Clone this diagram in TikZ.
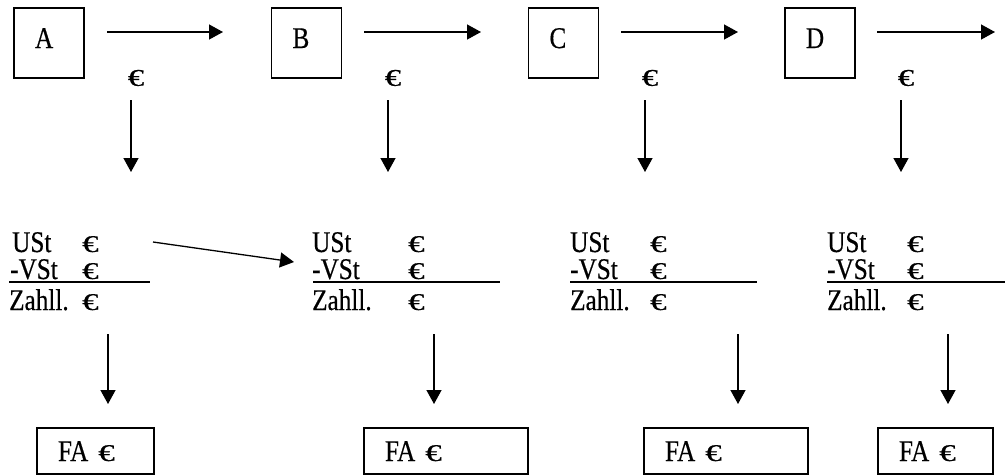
\documentclass[tikz,border=0pt]{standalone}
\usepackage{graphicx}
\usepackage{fontspec}
\setmainfont{Liberation Serif}[FakeStretch=0.84,FakeBold=0.5]
\usetikzlibrary{arrows.meta}
\newcommand{\myeuro}{\scalebox{1.3}[0.8]{€}}
\tikzset{
  arr/.style={line width=1.3pt,-{Triangle[length=14pt,width=15pt]}},
  partybox/.style={draw,line width=1.3pt,minimum width=70pt,minimum height=70pt,inner xsep=21pt,inner ysep=0pt,text width=28pt,align=left,text height=20pt,text depth=10pt},
  fabox/.style={draw,line width=1.3pt,minimum height=46pt,inner xsep=21pt,inner ysep=0pt,align=left,text height=20pt,text depth=0pt},
  txt/.style={anchor=base west,inner sep=0pt},
  eur/.style={inner sep=0pt},
  rule/.style={line width=2pt}
}
\begin{document}
\begin{tikzpicture}[x=1pt,y=-1pt,font=\fontsize{30}{36}\selectfont]
\useasboundingbox (0,0) rectangle (1005,475);
% parties
\node[partybox] (A) at (49,43) {A};
\node[partybox] (B) at (306.5,43) {B};
\node[partybox] (C) at (563.5,43) {C};
\node[partybox] (D) at (820,43) {D};
% horizontal arrows
\coordinate (hA1) at (107,32); \coordinate (hA2) at (223,32);
\coordinate (hB1) at (364,32); \coordinate (hB2) at (481,32);
\coordinate (hC1) at (621,32); \coordinate (hC2) at (738,32);
\coordinate (hD1) at (877,32); \coordinate (hD2) at (995,32);
\draw[arr] (hA1) -- (hA2);
\draw[arr] (hB1) -- (hB2);
\draw[arr] (hC1) -- (hC2);
\draw[arr] (hD1) -- (hD2);
% euro signs
\node[eur] (eA) at (136,78) {\myeuro};
\node[eur] (eB) at (393,78) {\myeuro};
\node[eur] (eC) at (650,78) {\myeuro};
\node[eur] (eD) at (906,78) {\myeuro};
% vertical arrows (upper)
\coordinate (vA1) at (131,100); \coordinate (vA2) at (131,172);
\coordinate (vB1) at (388,100); \coordinate (vB2) at (388,172);
\coordinate (vC1) at (645,100); \coordinate (vC2) at (645,172);
\coordinate (vD1) at (901,100); \coordinate (vD2) at (901,172);
\draw[arr] (vA1) -- (vA2);
\draw[arr] (vB1) -- (vB2);
\draw[arr] (vC1) -- (vC2);
\draw[arr] (vD1) -- (vD2);
% ledgers
\node[txt] (uA) at (12,252) {USt};   \node[txt] (ueA) at (82,252) {\myeuro};
\node[txt] (vsA) at (10,279) {-VSt}; \node[txt] (veA) at (82,279) {\myeuro};
\node[txt] (zA) at (9,310) {Zahll.}; \node[txt] (zeA) at (82,310) {\myeuro};
\coordinate (lA1) at (9,282); \coordinate (lA2) at (150,282);
\draw[rule] (lA1) -- (lA2);

\node[txt] (uB) at (312,252) {USt};   \node[txt] (ueB) at (408,252) {\myeuro};
\node[txt] (vsB) at (312,279) {-VSt}; \node[txt] (veB) at (408,279) {\myeuro};
\node[txt] (zB) at (312,310) {Zahll.}; \node[txt] (zeB) at (408,310) {\myeuro};
\coordinate (lB1) at (313,282); \coordinate (lB2) at (500,282);
\draw[rule] (lB1) -- (lB2);

\node[txt] (uC) at (570,252) {USt};   \node[txt] (ueC) at (650,252) {\myeuro};
\node[txt] (vsC) at (570,279) {-VSt}; \node[txt] (veC) at (650,279) {\myeuro};
\node[txt] (zC) at (570,310) {Zahll.}; \node[txt] (zeC) at (650,310) {\myeuro};
\coordinate (lC1) at (570,282); \coordinate (lC2) at (757,282);
\draw[rule] (lC1) -- (lC2);

\node[txt] (uD) at (827,252) {USt};   \node[txt] (ueD) at (907,252) {\myeuro};
\node[txt] (vsD) at (827,279) {-VSt}; \node[txt] (veD) at (907,279) {\myeuro};
\node[txt] (zD) at (827,310) {Zahll.}; \node[txt] (zeD) at (907,310) {\myeuro};
\coordinate (lD1) at (827,282); \coordinate (lD2) at (1005,282);
\draw[rule] (lD1) -- (lD2);
% diagonal arrow
\coordinate (dg1) at (153,242); \coordinate (dg2) at (294,262);
\draw[arr] (dg1) -- (dg2);
% lower arrows
\coordinate (wA1) at (108,334); \coordinate (wA2) at (108,404);
\coordinate (wB1) at (434,334); \coordinate (wB2) at (434,404);
\coordinate (wC1) at (738,334); \coordinate (wC2) at (738,404);
\coordinate (wD1) at (948,334); \coordinate (wD2) at (948,404);
\draw[arr] (wA1) -- (wA2);
\draw[arr] (wB1) -- (wB2);
\draw[arr] (wC1) -- (wC2);
\draw[arr] (wD1) -- (wD2);
% FA boxes
\node[fabox,text width=75pt] (fA) at (95.5,451) {FA \myeuro};
\node[fabox,text width=122pt] (fB) at (446,451) {FA \myeuro};
\node[fabox,text width=122pt] (fC) at (726,451) {FA \myeuro};
\node[fabox,text width=73pt] (fD) at (935.5,451) {FA \myeuro};
\end{tikzpicture}
\end{document}
